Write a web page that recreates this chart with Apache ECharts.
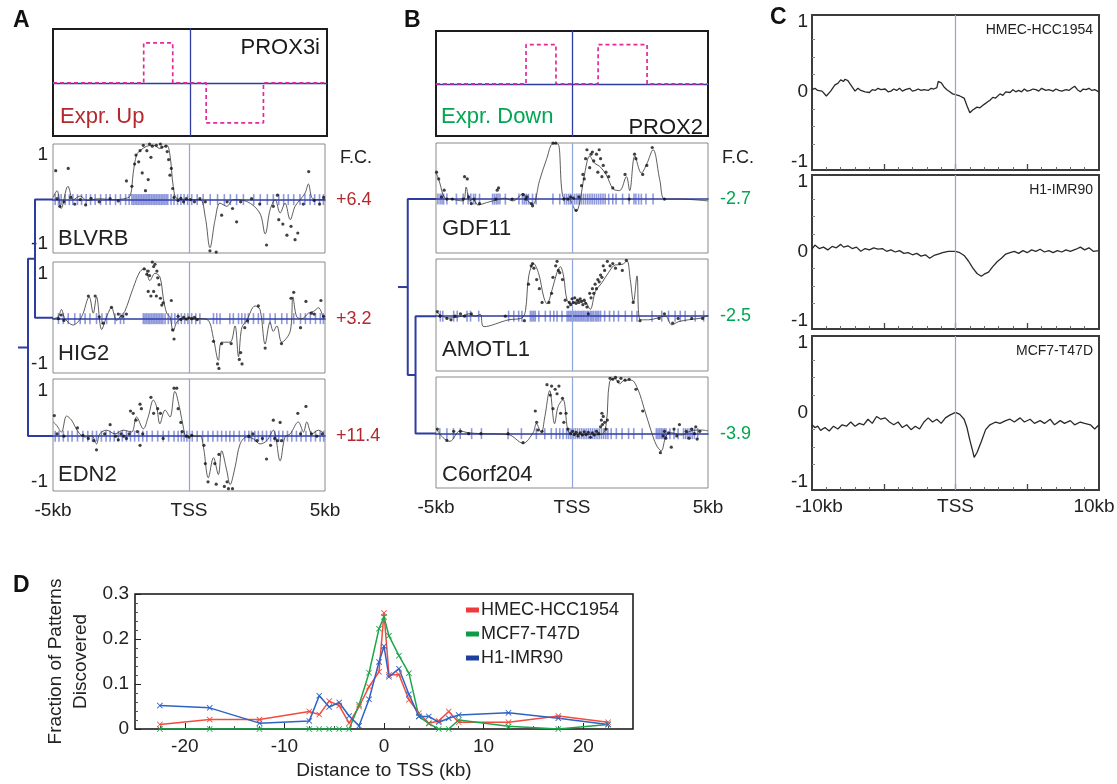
<!DOCTYPE html>
<html>
<head>
<meta charset="utf-8">
<script src="https://cdn.jsdelivr.net/npm/echarts/dist/echarts.min.js"></script>
<style>
html,body{margin:0;padding:0;background:#fff}
#chart{width:1117px;height:784px}
</style>
</head>
<body>
<div id="chart"></div>
<script>
// ---------- data ----------
// step patterns of the two motifs (kb, level)
var patA = [[-5,0],[-1.69,0],[-1.69,1],[-0.63,1],[-0.63,0],[0.59,0],[0.59,-1],[2.68,-1],[2.68,0],[5,0]];
var patB = [[-5,0],[-1.69,0],[-1.69,1],[-0.59,1],[-0.59,0],[0.96,0],[0.96,1],[2.76,1],[2.76,0],[5,0]];

var genesA = ['BLVRB','HIG2','EDN2'];
var fcA = ['+6.4','+3.2','+11.4'];
var genesB = ['GDF11','AMOTL1','C6orf204'];
var fcB = ['-2.7','-2.5','-3.9'];
// dendrogram merge heights (first merge, second merge, root stub)
var dendA = [18, 25, 35];
var dendB = [21, 29, 39];

var blvrbLine = [[-5,0.05],[-4.85,0.2],[-4.7,-0.2],[-4.45,0.3],[-4.25,0],[-4.0,0.08],[-3.75,-0.02],[-3.3,0.02],[-2.8,0],[-2.3,0.03],[-2.15,0.1],[-2.05,0.6],[-1.93,1.0],[-1.8,1.1],[-1.55,1.2],[-1.3,1.22],[-1.07,1.15],[-0.82,1.22],[-0.7,1.0],[-0.58,0.3],[-0.45,0.03],[-0.1,0],[0.4,0],[0.6,-0.4],[0.77,-1.08],[0.96,-0.45],[1.14,-0.08],[1.39,-0.15],[1.63,0],[2.12,-0.04],[2.6,-0.3],[2.8,-0.77],[2.98,-0.23],[3.17,0],[3.35,-0.3],[3.53,-0.08],[3.72,-0.45],[3.9,-0.15],[4.09,0],[4.27,0.15],[4.39,0.35],[4.52,0.04],[4.7,0],[5,0]];
var blvrbDots = [[-4.9,0.65],[-4.85,0.02],[-4.75,-0.15],[-4.6,-0.05],[-4.44,0.7],[-4.35,0.05],[-4.2,-0.1],[-4.0,0.0],[-3.8,-0.12],[-3.6,0.03],[-3.3,-0.05],[-2.9,0.02],[-2.6,-0.03],[-2.3,0.42],[-2.1,0.3],[-2.0,0.8],[-1.95,1.0],[-1.85,0.85],[-1.8,1.1],[-1.72,0.6],[-1.68,1.22],[-1.6,0.2],[-1.55,1.1],[-1.5,0.45],[-1.45,1.25],[-1.4,0.95],[-1.35,1.2],[-1.3,1.28],[-1.25,1.3],[-1.2,1.22],[-1.15,1.28],[-1.1,1.3],[-1.05,1.25],[-1.0,1.18],[-0.95,1.26],[-0.9,1.3],[-0.85,1.2],[-0.8,1.08],[-0.75,0.9],[-0.7,0.55],[-0.65,0.7],[-0.6,0.25],[-0.55,0.05],[-0.4,-0.02],[-0.3,0.03],[-0.2,-0.05],[-0.1,0.02],[0.05,0],[0.2,-0.05],[0.4,0.02],[0.6,-0.05],[0.77,-1.15],[1.0,-1.18],[1.2,-0.35],[1.4,-0.05],[1.6,-0.2],[1.75,-0.5],[1.9,-0.05],[2.3,0.02],[2.6,-0.1],[2.85,-1.02],[3.1,-0.15],[3.25,0.1],[3.3,-0.45],[3.45,-0.55],[3.6,-0.8],[3.75,-0.6],[3.9,-0.9],[4.0,-0.75],[4.2,-0.1],[4.4,0.63],[4.6,-0.02],[4.8,-0.1],[4.95,0.05]];
var blvrbRug = [-4.92,-4.8,-4.7,-4.55,-4.4,-4.27,-4.1,-3.95,-3.78,-3.62,-3.45,-3.25,-3.05,-2.9,-2.7,-2.52,-2.33,-2.2,-2.1,-2.04,-1.98,-1.92,-1.86,-1.8,-1.74,-1.68,-1.62,-1.56,-1.5,-1.44,-1.38,-1.32,-1.26,-1.2,-1.14,-1.08,-1.02,-0.96,-0.9,-0.84,-0.78,-0.66,-0.55,-0.42,-0.3,-0.18,-0.05,0.1,0.3,0.52,0.78,1.05,1.3,1.52,1.75,2.0,2.38,2.62,2.88,3.1,3.3,3.48,3.65,3.85,4.08,4.26,4.45,4.62,4.8,4.94];

var hig2Line = [[-5,0],[-4.81,0.04],[-4.69,0.2],[-4.56,0],[-4.26,-0.14],[-3.95,0.04],[-3.67,0.48],[-3.52,0.12],[-3.4,0.48],[-3.21,-0.24],[-3.03,0.04],[-2.85,0.24],[-2.66,-0.04],[-2.48,0.08],[-2.36,0.16],[-2.05,0.68],[-1.8,1.04],[-1.62,1.1],[-1.44,0.84],[-1.25,1.0],[-1.07,0.92],[-0.94,0.44],[-0.82,0.12],[-0.7,0.04],[-0.58,-0.28],[-0.45,-0.08],[-0.27,0],[0.4,0],[0.71,-0.04],[0.9,-0.44],[1.08,-0.92],[1.2,-0.52],[1.51,-0.52],[1.69,-0.16],[1.82,-0.84],[1.94,-0.2],[2.12,-0.04],[2.43,0.28],[2.61,0.2],[2.8,-0.56],[2.98,-0.08],[3.1,-0.28],[3.23,-0.16],[3.41,-0.52],[3.72,-0.28],[3.82,0.48],[3.96,0.04],[4.15,0],[4.39,0.12],[4.58,0.16],[4.76,0.24],[4.94,0]];
var hig2Dots = [[-4.8,0.0],[-4.7,0.08],[-4.6,-0.04],[-3.7,0.5],[-3.45,0.5],[-3.3,0.04],[-3.15,-0.1],[-2.85,0.25],[-2.6,0.1],[-2.45,0.05],[-2.3,0.1],[-1.65,1.1],[-1.55,0.98],[-1.5,1.05],[-1.45,0.95],[-1.4,1.3],[-1.35,1.25],[-1.3,1.15],[-1.25,1.2],[-1.22,1.3],[-1.18,1.05],[-1.15,0.9],[-1.5,0.6],[-1.4,0.5],[-1.3,0.6],[-1.2,0.5],[-1.1,0.75],[-1.05,0.45],[-1.0,0.3],[-0.95,0.35],[-0.65,0.4],[-0.6,-0.25],[-0.55,-0.45],[-0.4,0.05],[-0.3,-0.02],[-0.2,0.03],[-0.1,-0.01],[0.0,0.02],[0.1,0.0],[0.2,0.03],[0.3,-0.02],[0.9,-0.5],[1.05,-1.0],[1.1,-1.1],[1.2,-0.55],[1.55,-0.55],[1.85,-0.9],[1.9,-0.75],[1.95,-1.0],[2.05,-0.2],[2.15,-0.05],[2.55,0.28],[2.8,-0.65],[3.4,-0.55],[3.75,0.45],[3.85,0.58],[4.1,-0.2],[4.3,0.38],[4.5,0.12],[4.6,0.1],[4.85,0.4],[4.95,0.05]];
var hig2Rug = [-4.8,-4.62,-4.44,-4.2,-4.0,-3.82,-3.64,-3.4,-3.2,-3.03,-2.72,-2.52,-2.4,-1.68,-1.62,-1.56,-1.5,-1.44,-1.38,-1.32,-1.26,-1.2,-1.14,-1.08,-1.02,-0.96,-0.88,-0.76,-0.64,-0.52,-0.4,-0.28,-0.16,-0.04,0.1,0.25,0.4,0.9,1.02,1.14,1.5,1.63,1.82,1.94,2.06,2.18,2.37,2.55,2.74,2.98,3.17,3.41,3.6,3.85,4.1,4.28,4.46,4.65,4.83,4.94];

var edn2Line = [[-4.99,0.31],[-4.87,0.24],[-4.69,0.09],[-4.5,0.44],[-4.32,0.35],[-4.07,0.09],[-3.83,-0.02],[-3.58,0.01],[-3.4,-0.17],[-3.28,0.05],[-3.03,0.13],[-2.72,0.05],[-2.42,0.13],[-2.11,0.09],[-1.93,0.42],[-1.68,0.16],[-1.5,0.42],[-1.31,0.79],[-1.19,0.64],[-1.07,0.27],[-0.88,0.57],[-0.7,0.42],[-0.52,0.98],[-0.33,0.57],[-0.21,0.2],[-0.09,0],[0.4,0],[0.53,-0.24],[0.71,-0.91],[0.9,-0.47],[1.08,-0.84],[1.2,-0.32],[1.39,-0.76],[1.51,-1.06],[1.69,-0.69],[1.88,-0.17],[2.12,-0.02],[2.37,-0.06],[2.61,-0.17],[2.86,-0.1],[3.1,0.13],[3.35,-0.54],[3.53,-0.02],[3.72,0.05],[4.02,0.31],[4.21,0.09],[4.33,0.31],[4.52,0.05],[4.76,0.13],[4.94,0.07]];
var edn2Dots = [[-4.95,0.45],[-4.85,0.05],[-4.6,0.0],[-4.1,0.18],[-3.9,0.02],[-3.7,-0.05],[-3.5,-0.1],[-3.4,-0.3],[-3.1,0.05],[-2.9,0.25],[-2.7,0.0],[-2.6,-0.08],[-2.5,0.05],[-2.4,0.0],[-2.3,-0.05],[-2.2,0.05],[-2.15,0.55],[-2.05,0.5],[-1.95,0.35],[-1.9,0.1],[-1.8,-0.2],[-1.8,0.7],[-1.75,0.6],[-1.7,0.05],[-1.4,0.85],[-1.3,0.5],[-1.15,0.6],[-1.05,0.5],[-0.95,-0.05],[-0.55,1.05],[-0.45,1.05],[-0.4,0.6],[-0.3,0.3],[-0.25,0.1],[-0.1,0.0],[0.0,-0.02],[0.1,0.02],[0.55,-0.2],[0.6,-0.6],[0.7,-1.0],[0.95,-0.6],[1.0,-1.05],[1.1,-0.4],[1.3,-1.1],[1.4,-1.0],[1.45,-1.15],[1.6,-1.15],[2.2,0.0],[2.35,0.05],[2.5,-0.1],[2.7,-0.05],[2.85,-0.5],[3.0,-0.2],[3.1,0.35],[3.15,-0.05],[3.25,-0.1],[3.35,0.3],[3.4,-0.1],[4.0,0.5],[4.1,0.05],[4.3,0.65],[4.5,0.05],[4.7,0.0],[4.9,0.05]];
var edn2Rug = [-4.92,-4.78,-4.62,-4.45,-4.3,-4.1,-3.9,-3.72,-3.55,-3.4,-3.22,-3.05,-2.9,-2.75,-2.6,-2.45,-2.3,-2.15,-2.0,-1.85,-1.7,-1.55,-1.35,-1.15,-0.95,-0.75,-0.55,-0.4,-0.28,-0.18,-0.08,0.02,0.12,0.3,0.5,0.7,0.88,1.05,1.2,1.36,1.5,1.65,1.85,2.05,2.2,2.3,2.42,2.55,2.7,2.85,3.0,3.15,3.3,3.45,3.62,3.78,3.95,4.12,4.3,4.48,4.65,4.82,4.95];

var gdf11Line = [[-4.99,0.58],[-4.87,0.38],[-4.69,0.04],[-4.44,0],[-4.01,-0.04],[-3.89,0.27],[-3.77,-0.04],[-3.64,0],[-3.46,-0.13],[-3.15,-0.08],[-2.79,-0.02],[-2.48,0.02],[-2.17,-0.04],[-1.8,0.12],[-1.62,-0.04],[-1.44,-0.12],[-1.19,0.42],[-0.94,0.88],[-0.7,1.23],[-0.52,1.23],[-0.33,0.04],[-0.09,0],[0.16,-0.27],[0.28,-0.08],[0.47,0.58],[0.65,0.96],[0.83,0.8],[1.02,0.73],[1.26,0.54],[1.51,0.23],[1.75,0.19],[2.0,0.5],[2.12,0.19],[2.31,0.96],[2.55,0.58],[2.74,0.77],[2.98,1.1],[3.23,0.42],[3.41,0],[3.96,0],[5,-0.04]];
var gdf11Dots = [[-4.98,0.6],[-4.9,0.45],[-4.8,0.05],[-4.7,0.2],[-4.6,0.0],[-4.4,0.0],[-4.0,0.0],[-3.95,0.5],[-3.85,0.45],[-3.8,0.05],[-3.7,-0.1],[-3.6,0.0],[-3.4,-0.1],[-2.8,0.0],[-2.75,0.2],[-2.7,0.25],[-2.2,0.0],[-1.8,0.1],[-1.7,0.0],[-1.65,0.05],[-1.5,-0.1],[-1.45,-0.15],[-0.7,1.25],[-0.6,1.25],[-0.3,0.0],[-0.15,0.0],[-0.05,0.05],[0.05,0.02],[0.15,-0.25],[0.25,0.05],[0.35,0.3],[0.4,0.55],[0.45,0.45],[0.5,0.9],[0.55,1.1],[0.6,1.3],[0.65,0.7],[0.7,1.0],[0.75,1.05],[0.8,0.85],[0.85,1.3],[0.9,1.0],[0.95,0.6],[1.0,1.1],[1.05,0.9],[1.1,0.5],[1.15,0.75],[1.25,0.6],[1.35,0.5],[1.5,0.25],[1.95,0.55],[2.1,0.0],[2.3,1.0],[2.35,0.9],[2.6,0.55],[2.75,0.75],[2.95,1.15],[3.4,0.0]];
var gdf11Rug = [-4.93,-4.85,-4.78,-4.72,-4.6,-4.25,-4.0,-3.82,-3.72,-3.62,-3.55,-3.4,-2.92,-2.85,-2.78,-2.72,-2.65,-2.45,-1.95,-1.82,-1.75,-1.68,-1.6,-1.45,-1.32,-0.7,-0.45,-0.28,-0.2,-0.12,-0.05,0.02,0.1,0.18,0.26,0.34,0.42,0.5,0.58,0.66,0.74,0.82,0.9,0.98,1.06,1.14,1.22,1.35,1.5,1.62,1.86,2.1,2.28,2.35,2.45,2.55,2.72,2.98];

var amotl1Line = [[-4.96,0.08],[-4.77,0],[-4.53,-0.04],[-4.04,0],[-3.79,0.05],[-3.55,0],[-3.37,0.04],[-3.24,-0.23],[-2.33,-0.08],[-1.84,-0.04],[-1.71,0.12],[-1.59,0.88],[-1.41,1.15],[-1.22,0.92],[-1.04,0.42],[-0.92,0.27],[-0.73,0.58],[-0.55,0.96],[-0.43,1.08],[-0.31,0.88],[-0.18,0.35],[0,0.27],[0.24,0.35],[0.49,0.31],[0.67,0.15],[0.86,0.54],[1.1,0.73],[1.35,0.96],[1.59,1.12],[1.84,1.13],[2.02,1.21],[2.14,0.81],[2.26,0.31],[2.39,0.88],[2.51,-0.08],[2.82,-0.08],[3.43,0],[3.67,-0.19],[3.92,-0.12],[4.28,-0.08],[4.77,-0.04],[5.0,0.02]];
var amotl1Dots = [[-4.95,0.1],[-4.85,0.0],[-4.6,-0.05],[-4.45,-0.08],[-4.3,0.0],[-4.1,0.05],[-3.95,0.0],[-3.7,0.05],[-2.45,0.0],[-1.75,-0.1],[-1.6,0.7],[-1.5,1.1],[-1.45,1.15],[-1.4,1.05],[-1.3,0.8],[-1.2,0.6],[-1.1,0.3],[-0.85,0.3],[-0.75,0.5],[-0.7,0.85],[-0.6,1.1],[-0.55,1.2],[-0.5,1.0],[-0.45,0.95],[-0.35,0.8],[-0.25,0.35],[-0.15,0.2],[-0.1,0.3],[-0.05,0.25],[0.0,0.38],[0.05,0.3],[0.1,0.4],[0.15,0.28],[0.2,0.35],[0.25,0.3],[0.3,0.38],[0.35,0.32],[0.4,0.25],[0.45,0.35],[0.5,0.28],[0.55,0.2],[0.6,0.05],[0.65,0.5],[0.7,0.4],[0.75,0.6],[0.8,0.5],[0.85,0.7],[0.9,0.6],[0.95,0.8],[1.0,0.75],[1.05,0.9],[1.1,0.85],[1.15,1.1],[1.2,1.0],[1.3,1.2],[1.4,1.1],[1.5,1.15],[1.6,1.05],[1.75,1.15],[1.85,1.0],[2.0,1.22],[2.25,0.3],[2.5,-0.1],[3.2,-0.05],[3.4,0.05],[3.7,-0.15],[3.9,-0.05],[4.4,-0.05],[4.8,-0.05]];
var amotl1Rug = [-4.84,-4.75,-4.35,-4.22,-3.86,-3.73,-3.43,-2.33,-2.14,-1.96,-1.84,-1.53,-1.47,-1.41,-1.35,-1.22,-0.98,-0.8,-0.67,-0.55,-0.37,-0.18,-0.12,-0.06,0.0,0.06,0.12,0.18,0.24,0.3,0.36,0.42,0.48,0.55,0.6,0.67,0.73,0.79,0.86,0.92,0.98,1.05,1.2,1.38,1.54,1.71,1.96,2.2,2.39,2.94,3.3,3.55,3.79,3.98,4.16,4.53,4.84];

var c6Line = [[-4.98,0.1],[-4.74,-0.09],[-4.49,-0.17],[-4.12,0.06],[-3.82,0.02],[-3.33,0],[-2.35,-0.02],[-1.8,-0.21],[-1.43,0.02],[-1.31,0.22],[-1.13,0.02],[-1.0,0.37],[-0.82,0.95],[-0.64,0.22],[-0.51,0.6],[-0.33,0.75],[-0.15,0.06],[-0.02,0],[0.59,-0.02],[1.08,-0.02],[1.26,0.22],[1.38,1.14],[1.57,1.22],[1.75,1.1],[1.93,1.18],[2.18,1.18],[2.42,0.98],[2.67,0.52],[2.91,0.06],[3.1,-0.25],[3.28,-0.38],[3.46,-0.05],[3.65,0.02],[4.01,-0.03],[4.38,0.06],[4.75,0.08],[5.0,0.06]];
var c6Dots = [[-4.95,0.1],[-4.6,-0.15],[-4.35,0.05],[-4.1,0.05],[-3.8,0.0],[-3.35,0.0],[-2.35,0.0],[-1.8,-0.2],[-1.35,0.5],[-1.3,0.25],[-1.25,0.08],[-1.1,0.05],[-0.92,1.08],[-0.8,0.85],[-0.75,1.05],[-0.7,0.55],[-0.62,0.98],[-0.55,0.88],[-0.48,1.05],[-0.42,0.45],[-0.35,0.78],[-0.3,0.25],[-0.22,0.45],[-0.15,0.1],[-0.05,0.0],[0.02,0.05],[0.08,-0.02],[0.15,0.03],[0.22,-0.05],[0.3,0.02],[0.38,-0.03],[0.45,0.04],[0.52,-0.02],[0.6,0.03],[0.68,-0.08],[0.75,0.02],[0.82,-0.03],[0.9,0.05],[0.98,0.0],[1.05,0.15],[1.08,0.3],[1.1,0.45],[1.12,0.2],[1.15,0.38],[1.2,0.25],[1.25,0.1],[1.3,0.3],[1.4,1.22],[1.5,1.2],[1.6,1.24],[1.7,1.15],[1.8,1.22],[1.95,1.18],[2.1,1.2],[2.35,0.98],[2.6,0.5],[3.25,-0.42],[3.35,-0.05],[3.4,0.05],[3.45,-0.1],[3.55,0.02],[3.65,-0.3],[3.75,0.1],[3.85,-0.05],[3.95,0.2],[4.2,0.05],[4.3,-0.1],[4.4,0.1],[4.5,0.0],[4.55,0.15],[4.6,-0.12],[4.7,0.05]];
var c6Rug = [-4.86,-4.6,-4.36,-4.11,-3.69,-3.33,-2.35,-1.86,-1.31,-1.0,-0.76,-0.58,-0.45,-0.33,-0.2,-0.12,-0.04,0.04,0.12,0.2,0.28,0.36,0.44,0.52,0.6,0.68,0.76,0.84,0.92,1.0,1.08,1.16,1.24,1.32,1.44,1.63,1.84,2.08,2.27,2.58,3.1,3.16,3.22,3.28,3.34,3.4,3.46,3.6,3.75,3.9,4.1,4.18,4.26,4.34,4.42,4.5,4.62];

// panel C average profiles (kb, value)
var cNames = ['HMEC-HCC1954','H1-IMR90','MCF7-T47D'];
var hmecProfile = [[-10,0.03],[-9.8,0.05],[-9.6,0.02],[-9.3,0.01],[-9.0,-0.06],[-8.7,0.01],[-8.4,0.1],[-8.2,0.12],[-8.0,0.17],[-7.8,0.15],[-7.7,0.18],[-7.5,0.16],[-7.3,0.1],[-7.0,0.01],[-6.8,0.05],[-6.6,0.02],[-6.3,0.0],[-6.0,-0.01],[-5.8,0.03],[-5.6,0.02],[-5.4,0.05],[-5.2,0.03],[-4.9,0.04],[-4.7,0.0],[-4.5,0.01],[-4.3,0.04],[-4.1,0.02],[-3.9,0.05],[-3.7,0.01],[-3.5,0.03],[-3.2,0.05],[-3.0,0.01],[-2.8,0.02],[-2.6,0.04],[-2.4,0.02],[-2.2,0.03],[-1.9,0.02],[-1.7,0.05],[-1.5,0.04],[-1.3,0.06],[-1.2,0.15],[-1.0,0.13],[-0.8,0.07],[-0.6,0.03],[-0.4,0.0],[-0.2,-0.03],[0,-0.04],[0.3,-0.06],[0.6,-0.09],[0.8,-0.2],[1.0,-0.3],[1.2,-0.26],[1.3,-0.27],[1.5,-0.22],[1.7,-0.23],[2.0,-0.18],[2.2,-0.15],[2.4,-0.12],[2.6,-0.08],[2.8,-0.09],[3.1,-0.03],[3.3,-0.05],[3.5,0.0],[3.8,-0.01],[4.0,0.03],[4.2,0.0],[4.4,0.02],[4.6,0.0],[4.8,0.04],[5.0,0.01],[5.2,0.02],[5.4,0.04],[5.6,0.03],[5.8,0.01],[6.0,0.05],[6.3,0.02],[6.5,0.03],[6.8,0.01],[7.0,0.04],[7.2,0.02],[7.4,0.01],[7.7,0.03],[7.9,0.02],[8.1,0.05],[8.3,0.08],[8.5,0.03],[8.7,0.0],[8.9,0.04],[9.1,0.03],[9.3,0.05],[9.5,0.02],[9.7,0.03],[10,0.0]];
var h1Profile = [[-10,0.03],[-9.8,0.09],[-9.5,0.04],[-9.2,0.06],[-8.9,0.02],[-8.6,0.07],[-8.3,0.05],[-8.0,0.1],[-7.8,0.06],[-7.5,0.08],[-7.2,0.04],[-6.9,0.06],[-6.6,0.0],[-6.3,0.04],[-6.0,0.02],[-5.7,0.05],[-5.4,0.03],[-5.1,0.04],[-4.8,0.0],[-4.5,0.02],[-4.2,-0.01],[-3.9,0.01],[-3.6,-0.03],[-3.3,-0.02],[-3.0,-0.05],[-2.7,-0.03],[-2.4,-0.07],[-2.1,-0.05],[-1.8,-0.1],[-1.5,-0.06],[-1.2,-0.04],[-0.9,-0.02],[-0.5,0.0],[0,0.0],[0.3,-0.02],[0.6,-0.06],[0.9,-0.14],[1.2,-0.24],[1.5,-0.32],[1.8,-0.36],[2.0,-0.33],[2.3,-0.3],[2.6,-0.22],[2.9,-0.15],[3.2,-0.1],[3.5,-0.04],[3.8,-0.02],[4.1,0.0],[4.4,-0.03],[4.7,0.01],[5.0,-0.02],[5.3,0.02],[5.6,0.0],[5.9,0.03],[6.2,-0.01],[6.5,0.01],[6.8,-0.02],[7.1,0.01],[7.4,-0.01],[7.7,0.02],[8.0,0.0],[8.4,0.03],[8.7,0.06],[9.0,0.02],[9.3,0.05],[9.6,0.0],[10,0.01]];
var mcf7Profile = [[-10,-0.18],[-9.8,-0.22],[-9.6,-0.2],[-9.4,-0.26],[-9.1,-0.22],[-8.8,-0.27],[-8.5,-0.2],[-8.2,-0.24],[-7.9,-0.18],[-7.6,-0.2],[-7.3,-0.14],[-7.0,-0.2],[-6.7,-0.16],[-6.4,-0.18],[-6.1,-0.1],[-5.8,-0.16],[-5.5,-0.06],[-5.2,-0.1],[-4.9,-0.08],[-4.6,-0.14],[-4.3,-0.18],[-4.0,-0.14],[-3.7,-0.22],[-3.4,-0.18],[-3.1,-0.25],[-2.8,-0.2],[-2.5,-0.24],[-2.2,-0.14],[-1.9,-0.08],[-1.6,-0.14],[-1.3,-0.1],[-1.0,-0.16],[-0.7,-0.08],[-0.4,-0.04],[0,0.0],[0.3,-0.03],[0.6,-0.1],[0.8,-0.22],[1.0,-0.4],[1.2,-0.56],[1.3,-0.65],[1.5,-0.58],[1.8,-0.42],[2.1,-0.25],[2.4,-0.18],[2.8,-0.14],[3.1,-0.16],[3.5,-0.12],[3.8,-0.1],[4.1,-0.14],[4.5,-0.08],[4.8,-0.14],[5.2,-0.1],[5.5,-0.16],[5.9,-0.12],[6.2,-0.16],[6.6,-0.1],[6.9,-0.18],[7.3,-0.12],[7.6,-0.16],[8.0,-0.12],[8.3,-0.18],[8.7,-0.14],[9.0,-0.16],[9.4,-0.18],[9.7,-0.24],[10,-0.18]];

// panel D
var dX = [-22.5,-17.5,-12.5,-7.5,-6.5,-5.5,-4.5,-3.5,-2.5,-1.5,-0.5,0,0.5,1.5,2.5,3.5,4.5,5.5,6.5,7.5,12.5,17.5,22.5];
var hmecFrac = [0.010,0.021,0.021,0.039,0.032,0.062,0.052,0.013,0.050,0.094,0.127,0.258,0.120,0.121,0.065,0.035,0.013,0.018,0.039,0.015,0.015,0.029,0.015];
var mcf7Frac = [0,0,0,0,0,0,0,0,0.054,0.125,0.223,0.249,0.207,0.163,0.124,0.028,0.012,0,0,0.020,0.006,0,0.010];
var h1Frac = [0.052,0.047,0.013,0.018,0.074,0.049,0.059,0.029,0.007,0.066,0.149,0.184,0.116,0.134,0.077,0.028,0.028,0.015,0.024,0.031,0.036,0.024,0.010];

// ---------- builders ----------
var FONT = '"Liberation Sans", Arial, sans-serif';
var BLUE = '#2d3c9e', TSSBLUE = '#8fa5dd', MAG = '#e02a9c', RED = '#b5282d', GREEN = '#00a651';
var grids = [], xAxes = [], yAxes = [], series = [], graphics = [];

function zip(xs, ys) { return xs.map(function (x, i) { return [x, ys[i]]; }); }

function label(x, y, text, size, color, align, weight) {
    graphics.push({type: 'text', x: x, y: y, silent: true, z: 50,
        style: {text: text, fontSize: size, fontFamily: FONT, fontWeight: weight || 'normal',
            fill: color || '#222', align: align || 'left', verticalAlign: 'middle'}});
}

function axisPair(grid, xa, ya) {
    grid.outerBoundsMode = 'none';
    grid.containLabel = false;
    grids.push(grid);
    var gi = grids.length - 1;
    xa.gridIndex = gi; ya.gridIndex = gi;
    xAxes.push(xa); yAxes.push(ya);
    return {x: xAxes.length - 1, y: yAxes.length - 1, g: gi};
}

var hidden = {axisTick: {show: false}, axisLabel: {show: false}, splitLine: {show: false}};
function ext(a, b) { var o = {}; for (var k in a) o[k] = a[k]; for (var k2 in b) o[k2] = b[k2]; return o; }

function patternBox(left, top, w, h, pts) {
    var ax = axisPair({left: left, top: top, width: w, height: h, show: true, borderColor: '#1c1c1c', borderWidth: 2},
        ext(hidden, {type: 'value', min: -5, max: 5, axisLine: {onZero: true, lineStyle: {color: BLUE, width: 1.3}}}),
        ext(hidden, {type: 'value', min: -1.33, max: 1.35, axisLine: {onZero: true, lineStyle: {color: BLUE, width: 1.3}}}));
    series.push({type: 'line', xAxisIndex: ax.x, yAxisIndex: ax.y, data: pts, symbol: 'none', z: 5,
        lineStyle: {color: MAG, width: 1.7, type: [4, 3]}});
}

function genePanel(left, top, w, h, line, dots, rug, yLabels, bottomLabels) {
    var ya = ext(hidden, {type: 'value', min: -1.2, max: 1.25, axisLine: {show: false}});
    if (yLabels) ya.axisLabel = {show: true, customValues: [-1, 1], fontSize: 19, color: '#222', fontFamily: FONT, margin: 5};
    var ax = axisPair({left: left, top: top, width: w, height: h, show: true, borderColor: '#8a8a8a', borderWidth: 1},
        ext(hidden, {type: 'value', min: -5, max: 5, position: 'bottom', axisLine: {onZero: true, lineStyle: {color: BLUE, width: 1.6}}}),
        ya);
    if (bottomLabels) {
        xAxes.push(ext(hidden, {gridIndex: ax.g, type: 'value', min: -5, max: 5, position: 'bottom',
            axisLine: {show: false, onZero: false},
            axisLabel: {show: true, customValues: [-5, 0, 5], fontSize: 19, color: '#222', fontFamily: FONT, margin: 10,
                formatter: function (v) { return v === 0 ? 'TSS' : v + 'kb'; }}}));
    }
    series.push({type: 'scatter', xAxisIndex: ax.x, yAxisIndex: ax.y, z: 3, silent: true,
        data: rug.map(function (x) { return [x, 0]; }), symbol: 'rect', symbolSize: [1.6, 11],
        itemStyle: {color: 'rgba(55,72,190,0.7)'}});
    series.push({type: 'line', xAxisIndex: ax.x, yAxisIndex: ax.y, data: line, smooth: 0.35, symbol: 'none', z: 4,
        lineStyle: {color: '#333', width: 0.8},
        markLine: {silent: true, symbol: 'none', label: {show: false}, data: [{xAxis: 0}],
            lineStyle: {color: TSSBLUE, width: 1.2, type: 'solid'}}});
    series.push({type: 'scatter', xAxisIndex: ax.x, yAxisIndex: ax.y, data: dots, symbolSize: 3.2, z: 6,
        itemStyle: {color: '#111'}});
}

function dendro(left, top, w, h, hts, pairFirst) {
    var ax = axisPair({left: left, top: top, width: w, height: h},
        ext(hidden, {type: 'value', min: 0, max: hts[2], inverse: true, axisLine: {show: false}}),
        ext(hidden, {type: 'value', min: 0, max: 2, inverse: true, axisLine: {show: false}}));
    var segs;
    if (pairFirst) {
        var m1 = 0.5, m2 = (m1 + 2) / 2;
        segs = [[[0,0],[hts[0],0],[hts[0],1],[0,1]],
                [[hts[0],m1],[hts[1],m1],[hts[1],2],[0,2]],
                [[hts[1],m2],[hts[2],m2]]];
    } else {
        var n1 = 1.5, n2 = n1 / 2;
        segs = [[[0,1],[hts[0],1],[hts[0],2],[0,2]],
                [[hts[0],n1],[hts[1],n1],[hts[1],0],[0,0]],
                [[hts[1],n2],[hts[2],n2]]];
    }
    segs.forEach(function (s) {
        series.push({type: 'line', xAxisIndex: ax.x, yAxisIndex: ax.y, data: s, symbol: 'none', silent: true,
            lineStyle: {color: BLUE, width: 2}, clip: false});
    });
}

function profilePanel(top, h, data, name, labelled) {
    var ax = axisPair({left: 812, top: top, width: 287, height: h, show: true, borderColor: '#3c3c3c', borderWidth: 2},
        ext(hidden, {type: 'value', min: -10, max: 10, position: 'bottom', axisLine: {show: false, onZero: false},
            axisTick: {show: true, inside: true, length: 3, customValues: [-9,-8,-7,-6,-4,-3,-2,-1,1,2,3,4,6,7,8,9],
                lineStyle: {color: '#666'}}}),
        ext(hidden, {type: 'value', min: -1.12, max: 1.1, axisLine: {show: false, onZero: false},
            axisTick: {show: true, inside: true, length: 3, customValues: [-0.75,-0.5,-0.25,0.25,0.5,0.75],
                lineStyle: {color: '#888'}},
            axisLabel: {show: true, customValues: [-1, 0, 1], fontSize: 19, color: '#222', fontFamily: FONT, margin: 4}}));
    var major = ext(hidden, {gridIndex: ax.g, type: 'value', min: -10, max: 10, position: 'bottom',
        axisLine: {show: false, onZero: false},
        axisTick: {show: true, inside: true, length: 6, customValues: [-5, 0, 5], lineStyle: {color: '#444', width: 1.3}}});
    if (labelled) {
        major.axisLabel = {show: true, customValues: [-10, 0, 10], fontSize: 19, color: '#222', fontFamily: FONT, margin: 7,
            formatter: function (v) {
                if (v === 0) return 'TSS';
                return v < 0 ? '{l|' + v + 'kb}' : '{r|' + v + 'kb}';
            },
            rich: {l: {fontSize: 19, padding: [0, 0, 0, 14]}, r: {fontSize: 19, padding: [0, 10, 0, 0]}}};
    }
    xAxes.push(major);
    series.push({type: 'line', xAxisIndex: ax.x, yAxisIndex: ax.y, data: data, symbol: 'none', z: 4,
        lineStyle: {color: '#2a2a2a', width: 1.3},
        markLine: {silent: true, symbol: 'none', label: {show: false}, data: [{xAxis: 0}],
            lineStyle: {color: TSSBLUE, width: 1.2, type: 'solid'}}});
    label(1093, top + 15, name, 14, '#222', 'right');
}

// ---------- panel A ----------
patternBox(53, 29, 274, 107, patA);
var rowsA = [[144, 109, blvrbLine, blvrbDots, blvrbRug], [262, 111, hig2Line, hig2Dots, hig2Rug], [379, 112, edn2Line, edn2Dots, edn2Rug]];
rowsA.forEach(function (r, i) {
    genePanel(53, r[0], 272, r[1], r[2], r[3], r[4], true, i === 2);
    var base = r[0] + r[1] * 1.25 / 2.45;
    label(336, base, fcA[i], 18, RED, 'left');
});
dendro(18, rowsA[0][0] + rowsA[0][1] * 0.51, 35, (rowsA[2][0] + rowsA[2][1] * 0.51) - (rowsA[0][0] + rowsA[0][1] * 0.51), dendA, true);
label(58, 239, genesA[0], 22);
label(58, 354, genesA[1], 22);
label(58, 475, genesA[2], 22);
label(340, 158, 'F.C.', 18);
label(13, 21, 'A', 23, '#111', 'left', 'bold');
label(320, 48, 'PROX3i', 22, '#1a1a1a', 'right');
label(60, 117, 'Expr. Up', 22, RED, 'left');

// ---------- panel B ----------
patternBox(436, 31, 272, 105, patB);
var rowsB = [[143, 110, gdf11Line, gdf11Dots, gdf11Rug], [259, 112, amotl1Line, amotl1Dots, amotl1Rug], [377, 111, c6Line, c6Dots, c6Rug]];
rowsB.forEach(function (r, i) {
    genePanel(436, r[0], 272, r[1], r[2], r[3], r[4], false, i === 2);
    var base = r[0] + r[1] * 1.25 / 2.45;
    label(720, base, fcB[i], 18, GREEN, 'left');
});
dendro(398, rowsB[0][0] + rowsB[0][1] * 0.51, 38, (rowsB[2][0] + rowsB[2][1] * 0.51) - (rowsB[0][0] + rowsB[0][1] * 0.51), dendB, false);
label(442, 229, genesB[0], 22);
label(442, 350, genesB[1], 22);
label(442, 475, genesB[2], 22);
label(722, 158, 'F.C.', 18);
label(404, 21, 'B', 23, '#111', 'left', 'bold');
label(703, 128, 'PROX2', 22, '#1a1a1a', 'right');
label(441, 117, 'Expr. Down', 22, GREEN, 'left');

// ---------- panel C ----------
profilePanel(15, 155, hmecProfile, cNames[0], false);
profilePanel(175, 154, h1Profile, cNames[1], false);
profilePanel(336, 154, mcf7Profile, cNames[2], true);
label(770, 18, 'C', 23, '#111', 'left', 'bold');

// ---------- panel D ----------
var xCross = 'path://M0,1L1,0L5,4L9,0L10,1L6,5L10,9L9,10L5,6L1,10L0,9L4,5Z';
var dAx = axisPair({left: 135, top: 594, width: 498, height: 135, show: true, borderColor: '#111', borderWidth: 1.5},
    {type: 'value', min: -25, max: 25, splitLine: {show: false}, axisLine: {show: false, onZero: false},
        axisTick: {show: true, inside: true, length: 6, customValues: [-20, -10, 0, 10, 20], lineStyle: {color: '#222'}},
        axisLabel: {customValues: [-20, -10, 0, 10, 20], fontSize: 19, color: '#222', fontFamily: FONT, margin: 8},
        name: 'Distance to TSS (kb)', nameLocation: 'middle', nameGap: 32,
        nameTextStyle: {fontSize: 19, color: '#222', fontFamily: FONT}},
    {type: 'value', min: 0, max: 0.3, interval: 0.1, splitLine: {show: false}, axisLine: {show: false, onZero: false},
        axisTick: {show: true, inside: true, length: 6, lineStyle: {color: '#222'}},
        minorTick: {show: true, splitNumber: 5, length: 3, lineStyle: {color: '#555'}},
        axisLabel: {fontSize: 19, color: '#222', fontFamily: FONT, margin: 6,
            formatter: function (v) { return v === 0 ? '0' : v.toFixed(1); }},
        name: 'Fraction of Patterns\nDiscovered', nameLocation: 'middle', nameGap: 42, nameRotate: 90,
        nameTextStyle: {fontSize: 19, color: '#222', fontFamily: FONT, lineHeight: 25}});
xAxes.push(ext(hidden, {gridIndex: dAx.g, type: 'value', min: -25, max: 25, position: 'bottom',
    axisLine: {show: false, onZero: false},
    axisTick: {show: true, inside: true, length: 3, customValues: [-22.5,-17.5,-15,-12.5,-7.5,-5,-2.5,2.5,5,7.5,12.5,15,17.5,22.5],
        lineStyle: {color: '#555'}}}));
var dSeries = [['HMEC-HCC1954', hmecFrac, '#f24b3f'], ['MCF7-T47D', mcf7Frac, '#1ba64b'], ['H1-IMR90', h1Frac, '#2e63c4']];
dSeries.forEach(function (s) {
    series.push({name: s[0], type: 'line', xAxisIndex: dAx.x, yAxisIndex: dAx.y, data: zip(dX, s[1]),
        symbol: xCross, symbolSize: 6, z: 5,
        lineStyle: {color: s[2], width: 1.5}, itemStyle: {color: s[2]}});
});
label(13, 586, 'D', 23, '#111', 'left', 'bold');

var option = {
    animation: false,
    backgroundColor: '#fff',
    textStyle: {fontFamily: FONT},
    grid: grids,
    xAxis: xAxes,
    yAxis: yAxes,
    series: series,
    graphic: graphics,
    legend: {
        data: [
            {name: 'HMEC-HCC1954', itemStyle: {color: '#f03a3a'}},
            {name: 'MCF7-T47D', itemStyle: {color: '#119a46'}},
            {name: 'H1-IMR90', itemStyle: {color: '#1f3f9e'}}
        ],
        orient: 'vertical', left: 466, top: 601, itemWidth: 13, itemHeight: 5, itemGap: 6,
        icon: 'rect', padding: 0, selectedMode: false,
        textStyle: {fontSize: 18, color: '#222', fontFamily: FONT, padding: [0, 0, 0, -3]}
    }
};
echarts.init(document.getElementById('chart')).setOption(option);
</script>
</body>
</html>
